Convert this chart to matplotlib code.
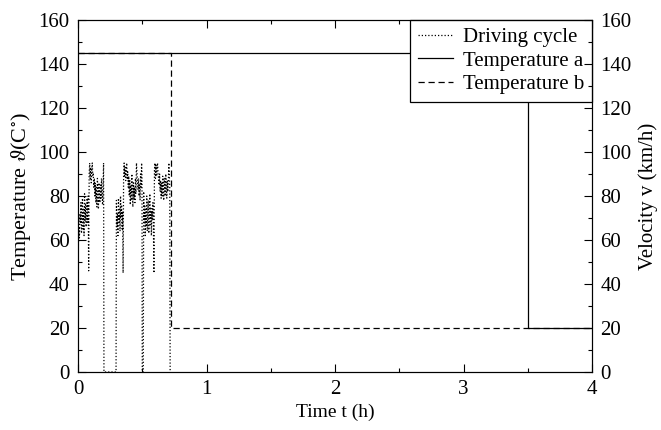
import matplotlib
matplotlib.use("Agg")
import matplotlib.pyplot as plt
from matplotlib.ticker import MultipleLocator

plt.rcParams['font.family'] = ['Liberation Serif', 'DejaVu Serif']
plt.rcParams['mathtext.fontset'] = 'stix'

# Driving cycle (time in h, velocity in km/h)
cycle_t = [0.000, 0.003, 0.007, 0.011, 0.015, 0.019, 0.023, 0.027, 0.031, 0.035,
           0.039, 0.043, 0.047, 0.051, 0.055, 0.059, 0.063, 0.067, 0.071, 0.075,
           0.079, 0.083, 0.087, 0.091, 0.095, 0.099, 0.103, 0.107, 0.111, 0.115,
           0.119, 0.123, 0.127, 0.131, 0.135, 0.139, 0.143, 0.147, 0.151, 0.155,
           0.159, 0.163, 0.167, 0.171, 0.175, 0.179, 0.183, 0.187, 0.191, 0.195,
           0.199, 0.202,
           0.296, 0.299, 0.303, 0.307, 0.311, 0.315, 0.319, 0.323, 0.327, 0.331,
           0.335, 0.339, 0.343, 0.347, 0.351, 0.355, 0.359, 0.363, 0.367, 0.371,
           0.375, 0.379, 0.383, 0.387, 0.391, 0.395, 0.399, 0.403, 0.407, 0.411,
           0.415, 0.419, 0.423, 0.427, 0.431, 0.435, 0.439, 0.443, 0.447, 0.451,
           0.455, 0.459, 0.463, 0.467, 0.471, 0.475, 0.479, 0.483, 0.487, 0.491,
           0.495, 0.498, 0.500,
           0.508, 0.511, 0.515, 0.519, 0.523, 0.527, 0.531, 0.535, 0.539, 0.543,
           0.547, 0.551, 0.555, 0.559, 0.563, 0.567, 0.571, 0.575, 0.579, 0.583,
           0.587, 0.591, 0.595, 0.599, 0.603, 0.607, 0.611, 0.615, 0.619, 0.623,
           0.627, 0.631, 0.635, 0.639, 0.643, 0.647, 0.651, 0.655, 0.659, 0.663,
           0.667, 0.671, 0.675, 0.679, 0.683, 0.687, 0.691, 0.695, 0.699, 0.703,
           0.707, 0.711, 0.714, 0.717]
cycle_v = [0, 58, 66, 61, 72, 68, 77, 63, 70, 79,
           65, 74, 62, 81, 69, 76, 66, 72, 79, 68,
           80, 46, 90, 95, 88, 93, 86, 92, 95, 89,
           90, 84, 88, 80, 86, 77, 84, 75, 88, 81,
           74, 86, 79, 77, 85, 79, 88, 82, 76, 84,
           95, 0,
           0, 78, 66, 72, 62, 79, 68, 74, 64, 80,
           70, 76, 65, 73, 45, 90, 95, 89, 93, 87,
           92, 95, 88, 91, 84, 89, 80, 87, 76, 85,
           78, 90, 82, 75, 86, 79, 84, 77, 88, 81,
           95, 90, 86, 83, 88, 80, 85, 78, 90, 84,
           95, 88, 0,
           0, 82, 68, 76, 62, 74, 66, 80, 64, 72,
           78, 63, 70, 81, 67, 75, 62, 73, 69, 77,
           65, 45, 92, 95, 88, 94, 89, 93, 95, 90,
           88, 85, 90, 82, 87, 79, 86, 80, 89, 83,
           78, 88, 84, 80, 90, 85, 79, 87, 82, 86,
           95, 88, 84, 0]

# Temperatures (deg C)
temp_a_t = [0.0, 3.5, 3.5, 4.0]
temp_a_v = [145, 145, 20, 20]
temp_b_t = [0.0, 0.72, 0.72, 4.0]
temp_b_v = [145, 145, 20, 20]

fig = plt.figure(figsize=(6.61, 4.30), dpi=100)
ax = fig.add_axes([78/661, 1 - 372/430, (592-78)/661, (372-20)/430])

l1, = ax.plot(cycle_t, cycle_v, color='black', lw=0.9, linestyle=(0, (1, 1.6)),
              label='Driving cycle')
l2, = ax.plot(temp_a_t, temp_a_v, color='black', lw=0.9, linestyle='-',
              label='Temperature a')
l3, = ax.plot(temp_b_t, temp_b_v, color='black', lw=0.9, linestyle=(0, (5, 3)),
              label='Temperature b')

ax.set_xlim(0, 4)
ax.set_ylim(0, 160)
ax.xaxis.set_major_locator(MultipleLocator(1))
ax.xaxis.set_minor_locator(MultipleLocator(0.5))
ax.yaxis.set_major_locator(MultipleLocator(20))
ax.yaxis.set_minor_locator(MultipleLocator(10))
ax.tick_params(which='both', direction='in', top=True, right=False,
               labelsize=15, pad=6)
ax.tick_params(which='major', length=6, width=0.8)
ax.tick_params(which='minor', length=3, width=0.8)
ax.set_xlabel('Time t (h)', fontsize=14, labelpad=3)
ax.set_ylabel(r'Temperature $\vartheta$(C$^{\circ}$)', fontsize=16, labelpad=4)

ax2 = ax.twinx()
ax2.set_ylim(0, 160)
ax2.yaxis.set_major_locator(MultipleLocator(20))
ax2.yaxis.set_minor_locator(MultipleLocator(10))
ax2.tick_params(which='both', direction='in', labelsize=15, pad=6)
ax2.tick_params(which='major', length=6, width=0.8)
ax2.tick_params(which='minor', length=3, width=0.8)
ax2.set_ylabel('Velocity v (km/h)', fontsize=15, labelpad=5)

leg = ax.legend(handles=[l1, l2, l3], loc='upper right', fontsize=15,
                frameon=True, fancybox=False, borderaxespad=0,
                handlelength=1.7, handletextpad=0.5, labelspacing=0.2,
                borderpad=0.35)
leg.get_frame().set_edgecolor('black')
leg.get_frame().set_linewidth(0.9)
leg.get_frame().set_alpha(1)

fig.savefig('out.png', dpi=100)
